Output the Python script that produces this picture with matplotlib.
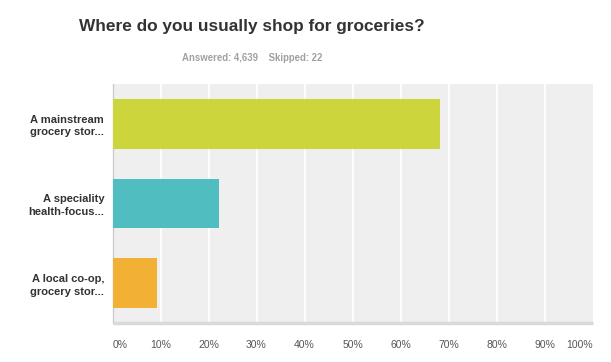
import matplotlib.pyplot as plt
import numpy as np

plt.rcParams['font.family'] = ['Liberation Sans', 'DejaVu Sans']

# Survey data
categories = ["A mainstream\ngrocery stor...", "A speciality\nhealth-focus...", "A local co-op,\ngrocery stor..."]
percents = [68.2, 22.1, 9.2]
colors = ['#cdd53c', '#50bec0', '#f2b134']
tick_values = [0, 10, 20, 30, 40, 50, 60, 70, 80, 90, 100]
tick_labels = [f"{v}%" for v in tick_values]

fig = plt.figure(figsize=(6.11, 3.62), dpi=100)
W, H = 611, 362
ax = fig.add_axes([112.5 / W, 1 - 323 / H, 480 / W, 239 / H])
ax.set_facecolor('#efefef')

y = np.arange(len(categories))
ax.barh(y, percents, height=0.625, color=colors, zorder=3)
ax.set_ylim(len(categories) - 0.5, -0.5)
ax.set_xlim(0, 100)

# gridlines
for v in tick_values[1:-1]:
    ax.axvline(v, color='white', lw=1.2, zorder=1)

ax.set_yticks(y)
ax.set_yticklabels(categories, fontsize=8, fontweight='bold', color='#333333', linespacing=1.3)
ax.set_xticks(tick_values)
ax.set_xticklabels(tick_labels, fontsize=7.5, color='#555555')
labels = ax.get_xticklabels()
labels[0].set_ha('left')
labels[-1].set_ha('right')
ax.tick_params(axis='both', length=0)
ax.tick_params(axis='x', pad=12)
ax.tick_params(axis='y', pad=6)

for s in ['top', 'right']:
    ax.spines[s].set_visible(False)
ax.spines['left'].set_color('#cccccc')
ax.spines['left'].set_linewidth(1)
ax.spines['bottom'].set_color('#d9d9d9')
ax.spines['bottom'].set_linewidth(2.5)
ax.spines['bottom'].set_capstyle('butt')

fig.text(252 / W, 1 - 26 / H, "Where do you usually shop for groceries?", ha='center', va='center',
         fontsize=12.4, fontweight='bold', color='#333333')
fig.text(252 / W, 1 - 58 / H, "Answered: 4,639    Skipped: 22", ha='center', va='center',
         fontsize=6.9, fontweight='bold', color='#a0a0a0')

fig.savefig('out.png', dpi=100)
